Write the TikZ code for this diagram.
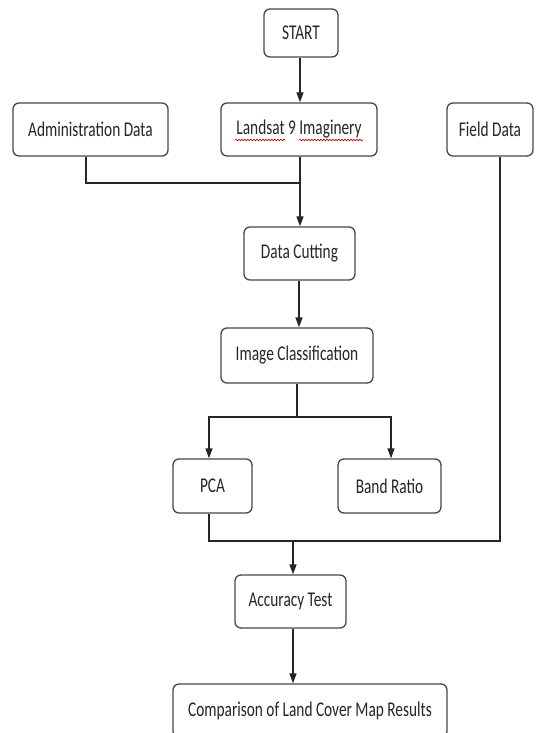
\documentclass[tikz,border=0pt]{standalone}
\usepackage{fontspec}
\setmainfont{Carlito}
\usetikzlibrary{arrows.meta,decorations.pathmorphing}
\newcommand{\sq}[1]{\scalebox{0.73}[1]{#1}}
\tikzset{
  box/.style={draw=black!72, line width=1.3pt, rounded corners=6pt, fill=white,
    minimum height=53pt, text=black!85, font=\fontsize{21}{24}\selectfont, inner sep=0pt},
  conn/.style={draw=black!85, line width=1.3pt},
  arr/.style={conn, -{Triangle[length=10pt,width=7pt]}},
  squig/.style={draw=red!75!black, line width=0.6pt, decorate,
    decoration={snake, amplitude=0.9pt, segment length=3pt}}
}
\begin{document}
\begin{tikzpicture}[x=1pt,y=-1pt]
\useasboundingbox (0,0) rectangle (540,733);
\clip (0,0) rectangle (540,733);
\fill[white] (0,0) rectangle (540,733);
% nodes
\node[box, minimum width=74pt, minimum height=48pt] (start) at (301,33) {\sq{START}};
\node[box, minimum width=155pt] (admin) at (90.5,129.5) {\sq{Administration Data}};
\node[box, minimum width=156pt] (landsat) at (299,129.5) {\sq{Landsat 9 Imaginery}};
\node[box, minimum width=86pt] (field) at (490,129.5) {\sq{Field Data}};
\node[box, minimum width=111pt] (cut) at (299.5,253.5) {\sq{Data Cutting}};
\node[box, minimum width=152pt, minimum height=55pt] (class) at (297,355.5) {\sq{Image Classification}};
\node[box, minimum width=79pt, minimum height=54pt] (pca) at (212.5,486) {\sq{PCA}};
\node[box, minimum width=103pt, minimum height=54pt] (band) at (389.5,486) {\sq{Band Ratio}};
\node[box, minimum width=111pt] (acc) at (290.5,601.5) {\sq{Accuracy Test}};
\node[box, minimum width=274pt] (comp) at (310,710.5) {\sq{Comparison of Land Cover Map Results}};
% junction coordinates
\coordinate (j1) at (300,183);
\coordinate (adminx) at (86,0);
\coordinate (j2) at (297,417);
\coordinate (pcax) at (209,417);
\coordinate (bandx) at (391,417);
\coordinate (fieldx) at (500,0);
\coordinate (j3) at (293,541);
% connectors
\draw[arr] (start.south -| j1) -- (landsat.north -| j1);
\draw[conn] (admin.south -| adminx) |- (j1);
\draw[conn] (landsat.south -| j1) -- (j1);
\draw[arr] (j1) -- (cut.north -| j1);
\draw[arr] (cut.south -| 299,0) -- (class.north -| 299,0);
\draw[conn] (class.south -| j2) -- (j2);
\draw[arr] (j2) -| (pca.north -| pcax);
\draw[arr] (j2) -| (band.north -| bandx);
\draw[conn] (pca.south -| pcax) |- (j3 -| fieldx) -- (field.south -| fieldx);
\draw[arr] (j3) -- (acc.north -| j3);
\draw[arr] (acc.south -| j3) -- (comp.north -| j3);
% spell-check underlines
\draw[squig] (235,140) -- (285,140);
\draw[squig] (299,140) -- (363,140);
\end{tikzpicture}
\end{document}
